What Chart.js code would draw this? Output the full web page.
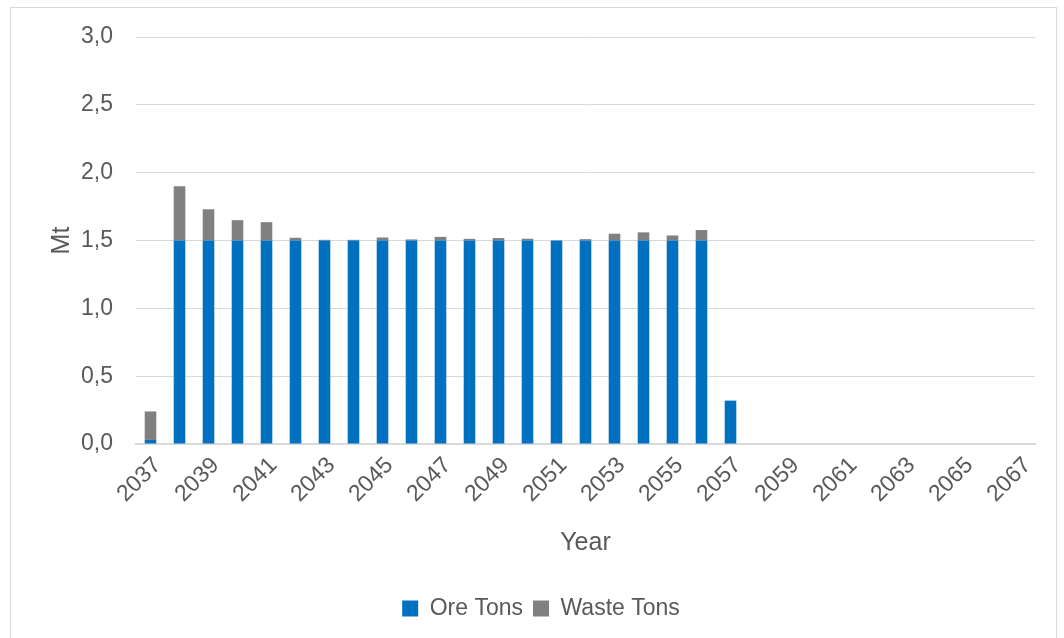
<!DOCTYPE html>
<html><head><meta charset="utf-8">
<script src="https://cdn.jsdelivr.net/npm/chart.js@4/dist/chart.umd.min.js"></script>
<style>
html,body{margin:0;padding:0;background:#fff;}
#wrap{position:relative;width:1064px;height:638px;overflow:hidden;}
#frame{position:absolute;left:10px;top:7px;width:1047px;height:660px;border:1px solid #d9d9d9;box-sizing:border-box;}
canvas{position:absolute;left:0;top:0;}
</style></head>
<body><div id="wrap"><div id="frame"></div><canvas id="c" width="1064" height="638"></canvas></div>
<script>
const years = [2037,2038,2039,2040,2041,2042,2043,2044,2045,2046,2047,2048,2049,2050,2051,2052,2053,2054,2055,2056,2057,2058,2059,2060,2061,2062,2063,2064,2065,2066,2067];
const oreTons = [0.03,1.5,1.5,1.5,1.5,1.5,1.5,1.5,1.5,1.5,1.5,1.5,1.5,1.5,1.5,1.5,1.5,1.5,1.5,1.5,0.32,0,0,0,0,0,0,0,0,0,0];
const wasteTons = [0.21,0.40,0.23,0.15,0.135,0.02,0.005,0.005,0.022,0.008,0.027,0.012,0.018,0.013,0,0.01,0.05,0.06,0.037,0.077,0,0,0,0,0,0,0,0,0,0,0];
const yTicks = [0,0.5,1.0,1.5,2.0,2.5,3.0];

const txt = '#595959';
const fam = '"Liberation Sans", Arial, sans-serif';
new Chart(document.getElementById('c'), {
  type: 'bar',
  data: {
    labels: years.map(String),
    datasets: [
      {label:'Ore Tons', data: oreTons, backgroundColor:'#0070C0', barPercentage:0.4, categoryPercentage:1},
      {label:'Waste Tons', data: wasteTons, backgroundColor:'#808080', barPercentage:0.4, categoryPercentage:1}
    ]
  },
  options: {
    responsive:false, animation:false,
    layout:{padding:{left:47,right:29,top:37,bottom:8}},
    plugins:{
      tooltip:{enabled:false},
      legend:{position:'bottom', labels:{color:txt, font:{family:fam,size:23}, boxWidth:16, boxHeight:16, padding:10}}
    },
    scales:{
      x:{stacked:true,
        grid:{display:false},
        border:{color:'#d9d9d9', width:2},
        ticks:{color:txt, font:{family:fam,size:23}, autoSkip:false, maxRotation:45, minRotation:45, padding:0, labelOffset:7,
          callback:function(v,i){return i%2===0 ? this.getLabelForValue(v) : '';}},
        title:{display:true, text:'Year', color:txt, font:{family:fam,size:25}, padding:{top:0,bottom:29}},
        afterFit:(s)=>{s.height=143;}
      },
      y:{stacked:true, min:0, max:3,
        afterBuildTicks:(s)=>{s.ticks=yTicks.map(v=>({value:v}));},
        grid:{color:'#d9d9d9', drawTicks:false},
        border:{display:false},
        ticks:{color:txt, font:{family:fam,size:23}, padding:23, callback:(v)=>v.toFixed(1).replace('.',',')},
        title:{display:true, text:'Mt', color:txt, font:{family:fam,size:25}, padding:0},
        afterFit:(s)=>{s.width=89;}
      }
    }
  }
});
</script></body></html>
